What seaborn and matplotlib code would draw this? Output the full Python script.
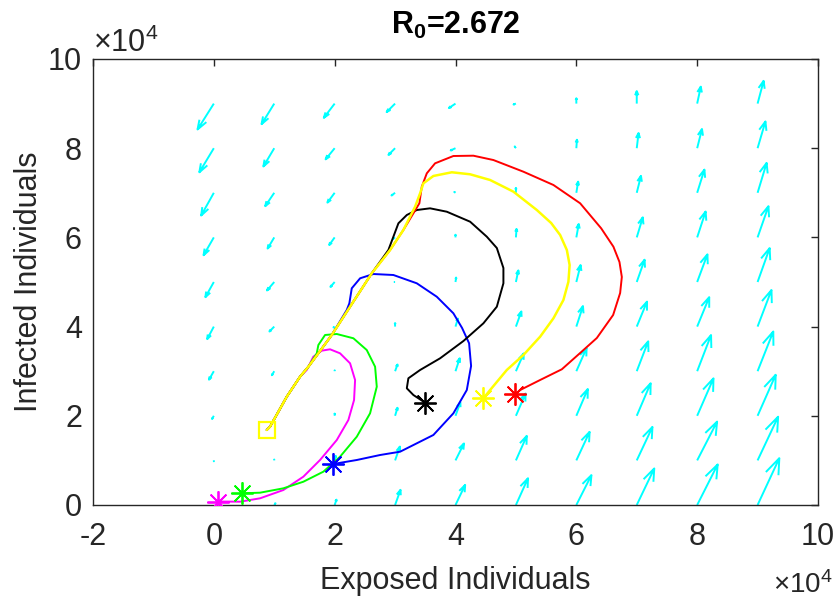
import numpy as np
import pandas as pd
import matplotlib
matplotlib.use("Agg")
import matplotlib.pyplot as plt
import seaborn as sns

SCALE = 1e4  # all values below are in units of 10^4 individuals

# ---- direction field (quiver) : grid 0..9 x 0..9 (x10^4) ----
GRID = [0, 1, 2, 3, 4, 5, 6, 7, 8, 9]
U_ROWS = [
    [0.00, 0.02, 0.03, 0.09, 0.16, 0.20, 0.25, 0.29, 0.34, 0.36],
    [0.00, 0.00, 0.02, 0.08, 0.14, 0.18, 0.22, 0.26, 0.33, 0.34],
    [-0.03, 0.00, 0.00, 0.04, 0.08, 0.16, 0.19, 0.23, 0.27, 0.30],
    [-0.08, -0.04, 0.00, 0.04, 0.07, 0.13, 0.17, 0.19, 0.23, 0.26],
    [-0.11, -0.08, -0.02, 0.00, 0.04, 0.09, 0.11, 0.17, 0.20, 0.23],
    [-0.14, -0.12, -0.07, -0.01, 0.01, 0.04, 0.07, 0.13, 0.17, 0.20],
    [-0.17, -0.11, -0.09, -0.04, 0.00, 0.01, 0.04, 0.10, 0.14, 0.18],
    [-0.21, -0.15, -0.12, -0.06, -0.02, 0.00, 0.03, 0.07, 0.12, 0.15],
    [-0.24, -0.18, -0.15, -0.11, -0.08, -0.02, 0.01, 0.03, 0.08, 0.13],
    [-0.27, -0.21, -0.18, -0.14, -0.11, -0.04, 0.00, 0.00, 0.06, 0.10],
]
V_ROWS = [
    [0.00, 0.04, 0.12, 0.34, 0.45, 0.60, 0.67, 0.82, 0.91, 1.05],
    [-0.02, 0.02, 0.10, 0.31, 0.38, 0.55, 0.64, 0.75, 0.87, 0.98],
    [-0.07, 0.00, 0.05, 0.18, 0.30, 0.50, 0.60, 0.73, 0.84, 0.92],
    [-0.19, -0.09, 0.02, 0.15, 0.29, 0.40, 0.52, 0.67, 0.81, 0.89],
    [-0.28, -0.11, -0.02, 0.08, 0.18, 0.34, 0.46, 0.56, 0.66, 0.82],
    [-0.34, -0.19, -0.11, 0.00, 0.10, 0.26, 0.38, 0.50, 0.62, 0.76],
    [-0.40, -0.25, -0.17, -0.04, 0.06, 0.19, 0.30, 0.45, 0.58, 0.70],
    [-0.51, -0.30, -0.22, -0.06, 0.02, 0.11, 0.25, 0.38, 0.52, 0.67],
    [-0.54, -0.41, -0.25, -0.15, -0.05, 0.04, 0.19, 0.34, 0.43, 0.60],
    [-0.58, -0.46, -0.32, -0.19, -0.10, -0.02, 0.12, 0.28, 0.38, 0.51],
]

# ---- trajectories (Exposed, Infected), x10^4 ----
COMMON_E = [3.303, 3.137, 2.917, 2.614, 2.255, 1.952, 1.730, 1.565, 1.427, 1.207, 0.930, 0.876]
COMMON_I = [6.614, 6.166, 5.717, 5.195, 4.446, 3.812, 3.401, 3.101, 2.877, 2.428, 1.756, 1.682]

MAG_E = [0.065, 0.434, 0.765, 1.151, 1.482, 1.758, 2.035, 2.227, 2.321, 2.338, 2.255, 2.089, 1.924, 1.786, 1.647, 1.538]
MAG_I = [0.078, 0.074, 0.150, 0.336, 0.635, 1.009, 1.457, 1.906, 2.354, 2.803, 3.177, 3.401, 3.491, 3.460, 3.325, 3.027]
GRN_E = [0.462, 0.765, 1.151, 1.482, 1.813, 2.089, 2.366, 2.586, 2.697, 2.669, 2.531, 2.310, 2.035, 1.841, 1.730, 1.704]
GRN_I = [0.262, 0.276, 0.374, 0.522, 0.747, 1.083, 1.531, 2.056, 2.652, 3.101, 3.475, 3.738, 3.834, 3.812, 3.587, 3.401]
BLU_E = [1.974, 2.366, 2.752, 3.083, 3.634, 3.965, 4.187, 4.258, 4.225, 4.109, 3.965, 3.690, 3.359, 2.972, 2.641, 2.421, 2.283, 2.243, 2.200]
BLU_I = [0.919, 1.009, 1.121, 1.195, 1.570, 2.056, 2.578, 3.117, 3.626, 3.969, 4.298, 4.670, 4.971, 5.157, 5.179, 5.083, 4.859, 4.522, 4.372]
BLK_E = [3.497, 3.303, 3.194, 3.220, 3.414, 3.745, 4.131, 4.462, 4.684, 4.793, 4.793, 4.684, 4.518, 4.242, 3.856, 3.579, 3.359, 3.194, 3.055, 2.972, 2.889]
BLK_I = [2.294, 2.466, 2.617, 2.841, 3.027, 3.289, 3.677, 4.074, 4.446, 4.971, 5.314, 5.762, 6.016, 6.352, 6.576, 6.652, 6.614, 6.502, 6.316, 6.016, 5.717]
RED_E = [4.987, 5.070, 5.401, 5.760, 6.063, 6.339, 6.609, 6.725, 6.753, 6.714, 6.614, 6.411, 6.063, 5.621, 5.124, 4.627, 4.296, 3.965, 3.662, 3.525, 3.442, 3.402, 3.303]
RED_I = [2.482, 2.578, 2.803, 3.043, 3.408, 3.744, 4.260, 4.753, 5.112, 5.448, 5.791, 6.204, 6.765, 7.175, 7.473, 7.735, 7.832, 7.825, 7.661, 7.437, 7.137, 6.765, 6.540]
YEL_E = [4.462, 4.573, 4.849, 5.124, 5.401, 5.621, 5.786, 5.869, 5.889, 5.843, 5.732, 5.583, 5.346, 4.959, 4.573, 4.242, 3.939, 3.634, 3.469, 3.414, 3.331]
YEL_I = [2.392, 2.578, 3.027, 3.363, 3.774, 4.186, 4.596, 5.007, 5.381, 5.717, 6.054, 6.323, 6.614, 7.025, 7.287, 7.415, 7.460, 7.377, 7.213, 6.989, 6.688]

# (name, colour, own E, own I, index into common tail where it joins, line width)
TRAJ = [
    ("magenta", "#FF00FF", MAG_E, MAG_I, 8, 1.4),
    ("green", "#00FF00", GRN_E, GRN_I, 7, 1.4),
    ("blue", "#0000FF", BLU_E, BLU_I, 5, 1.4),
    ("black", "#000000", BLK_E, BLK_I, 3, 1.4),
    ("red", "#FF0000", RED_E, RED_I, 1, 1.4),
    ("yellow", "#FFFF00", YEL_E, YEL_I, 1, 1.8),
]

X_TICKS = [-2, 0, 2, 4, 6, 8, 10]
Y_TICKS = [0, 2, 4, 6, 8, 10]
TITLE = "2.672"

sns.set_style("white")
plt.rcParams["font.family"] = ["Liberation Sans", "DejaVu Sans"]
plt.rcParams["mathtext.fontset"] = "custom"
plt.rcParams["mathtext.rm"] = "Liberation Sans"
plt.rcParams["mathtext.it"] = "Liberation Sans:italic"
plt.rcParams["mathtext.bf"] = "Liberation Sans:bold"

AX_COL = "#262626"
FS = 22

fig = plt.figure(figsize=(8.38, 6.06), dpi=100)
ax = fig.add_axes([93 / 838, 1 - 505 / 606, 725 / 838, 446 / 606])

# ---- quiver drawn MATLAB-style (shaft + open head) ----
gx, gy = np.meshgrid(np.array(GRID, float), np.array(GRID, float))
U = np.array(U_ROWS, float)
V = np.array(V_ROWS, float)
x0, y0 = gx.ravel() * SCALE, gy.ravel() * SCALE
u, v = U.ravel() * SCALE, V.ravel() * SCALE
alpha, beta = 0.33, 0.30
xs, ys = [], []
for xi, yi, ui, vi in zip(x0, y0, u, v):
    xs += [xi, xi + ui, np.nan]
    ys += [yi, yi + vi, np.nan]
    xs += [xi + ui - alpha * (ui + beta * vi), xi + ui, xi + ui - alpha * (ui - beta * vi), np.nan]
    ys += [yi + vi - alpha * (vi - beta * ui), yi + vi, yi + vi - alpha * (vi + beta * ui), np.nan]
ax.plot(xs, ys, color="#00FFFF", lw=1.4, solid_capstyle="butt", zorder=1)

# ---- trajectories ----
for name, col, e, i, j, lw in TRAJ:
    E = np.array(list(e) + COMMON_E[j:]) * SCALE
    I = np.array(list(i) + COMMON_I[j:]) * SCALE
    df = pd.DataFrame({"E": E, "I": I, "step": np.arange(len(E))})
    sns.lineplot(data=df, x="E", y="I", sort=False, estimator=None, color=col,
                 lw=lw, ax=ax, zorder=3)
    ax.plot(E[0], I[0], marker=(8, 2, 0), ms=16, mew=1.3, color=col, zorder=4,
            linestyle="none")

# end point marker (yellow square)
ax.plot(COMMON_E[-1] * SCALE, COMMON_I[-1] * SCALE, marker="s", ms=11, mfc="none",
        mec="#FFFF00", mew=1.6, linestyle="none", zorder=5)

ax.set_xlim(X_TICKS[0] * SCALE, X_TICKS[-1] * SCALE)
ax.set_ylim(Y_TICKS[0] * SCALE, Y_TICKS[-1] * SCALE)
ax.set_xticks([t * SCALE for t in X_TICKS])
ax.set_xticklabels([str(t) for t in X_TICKS])
ax.set_yticks([t * SCALE for t in Y_TICKS])
ax.set_yticklabels([str(t) for t in Y_TICKS])
ax.tick_params(axis="both", direction="in", length=5, width=1, colors=AX_COL,
               labelsize=FS, top=True, right=True)
ax.tick_params(axis="x", pad=12)
ax.tick_params(axis="y", pad=8)
for s in ax.spines.values():
    s.set_color(AX_COL)
    s.set_linewidth(1.0)
    s.set_visible(True)

ax.set_xlabel("Exposed Individuals", fontsize=FS, color=AX_COL, labelpad=10)
ax.set_ylabel("Infected Individuals", fontsize=FS, color=AX_COL, labelpad=3)
ax.set_title(r"$\mathbf{R_0}$=" + TITLE, fontsize=FS, fontweight="bold", color="black", pad=18)

ax.text(0.0, 1.0, r"$\times10^{4}$", transform=ax.transAxes, ha="left", va="bottom",
        fontsize=FS, color=AX_COL)
ax.text(1.02, -0.148, r"$\times10^{4}$", transform=ax.transAxes, ha="right", va="top",
        fontsize=20, color=AX_COL)

fig.savefig("out.png", dpi=100, facecolor="white")
